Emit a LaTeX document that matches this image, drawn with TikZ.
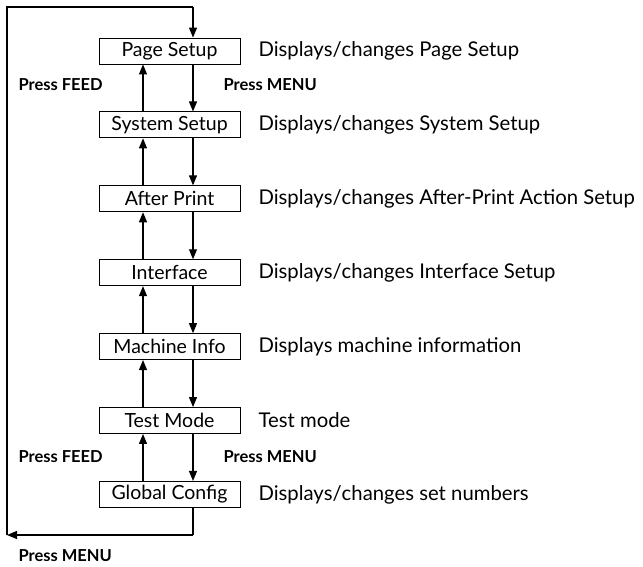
\documentclass[tikz,border=0pt]{standalone}
\usepackage{fontspec}
\setmainfont{Lato}
\usetikzlibrary{arrows.meta}
\begin{document}
\begin{tikzpicture}[x=1pt,y=-1pt,
  box/.style={draw,line width=0.9pt,minimum width=141pt,minimum height=26pt,inner sep=0pt,font=\fontsize{19.5}{21}\selectfont},
  desc/.style={anchor=west,font=\fontsize{20.3}{22}\selectfont},
  lab/.style={font=\bfseries\fontsize{16.5}{19}\selectfont},
  arr/.style={line width=1.1pt,-{Triangle[length=10pt,width=8pt]}},
  ln/.style={line width=1.1pt}]
\useasboundingbox (0,0) rectangle (643,567);
\foreach \n/\t/\d [count=\i from 0] in {a/Page Setup/Displays\slash changes Page Setup,
  b/System Setup/Displays\slash changes System Setup,
  c/After Print/Displays\slash changes After-Print Action Setup,
  d/Interface/Displays\slash changes Interface Setup,
  e/Machine Info/Displays machine information,
  f/Test Mode/Test mode,
  g/Global Config/Displays\slash changes set numbers}{
  \node[box] (\n) at (169.5,{51+73.9*\i}) {\t};
  \node[desc] (\n d) at (255,{51+73.9*\i}) {\d};
}
\foreach \u/\v in {a/b,b/c,c/d,d/e,e/f,f/g}{
  \draw[arr] ([xshift=23.5pt]\u.south) -- ([xshift=23.5pt]\v.north);
  \draw[arr] ([xshift=-26.5pt]\v.north) -- ([xshift=-26.5pt]\u.south);
}
\coordinate (tl) at (7,7);
\coordinate (bl) at (7,535);
\coordinate (tr) at ([xshift=23.5pt]a.north |- tl);
\coordinate (br) at ([xshift=23.5pt]g.south |- bl);
\draw[ln] ([xshift=23.5pt]g.south) -- (br);
\draw[arr] (br) -- (bl);
\draw[ln] (bl) -- (tl) -- (tr);
\draw[arr] (tr) -- ([xshift=23.5pt]a.north);
\node[lab,anchor=west] (l1) at (15,85) {Press FEED};
\node[lab,anchor=west] (l2) at (220,85) {Press MENU};
\node[lab,anchor=west] (l3) at (15,457) {Press FEED};
\node[lab,anchor=west] (l4) at (220,457) {Press MENU};
\node[lab,anchor=west] (l5) at (15,556) {Press MENU};
\end{tikzpicture}
\end{document}
